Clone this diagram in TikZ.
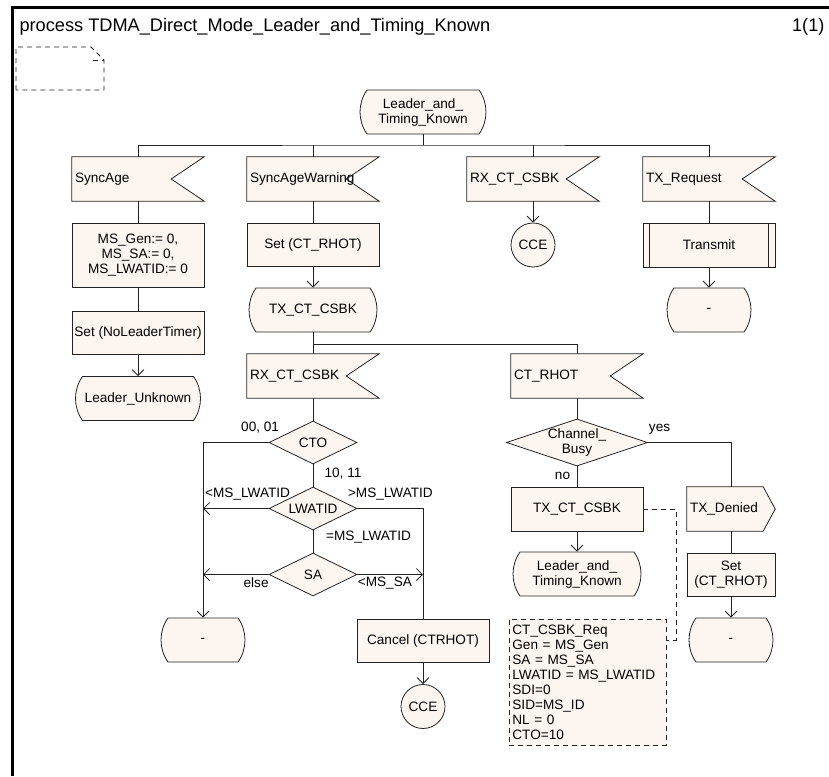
\documentclass[tikz,border=0pt]{standalone}
\usepackage{fontspec}
\setmainfont{Liberation Sans}
\usetikzlibrary{shapes.geometric,shapes.misc,arrows.meta,backgrounds}

\definecolor{sdlfill}{RGB}{253,246,240}
\definecolor{sdlline}{RGB}{35,35,35}

\newcommand{\sdlfont}{\fontsize{13.6}{15}\selectfont}
\newcommand{\headfont}{\fontsize{18.2}{20}\selectfont}

\tikzset{
  sym/.style={draw=sdlline, fill=sdlfill, line width=0.8pt},
  task/.style={sym, rectangle, minimum width=132pt, minimum height=43pt, inner sep=2pt, align=center},
  state/.style={sym, rounded rectangle, rounded rectangle arc length=70, minimum width=132pt, minimum height=44pt, inner sep=2pt, align=center},
  decision/.style={sym, diamond, aspect=2, minimum width=88pt, minimum height=43pt, inner sep=0pt, align=center},
  conn/.style={sym, circle, minimum size=44pt, inner sep=0pt},
  input/.style={rectangle, minimum width=132pt, minimum height=44pt, text width=126pt, inner sep=3pt, align=left},
  output/.style={rectangle, minimum width=88pt, minimum height=44pt, text width=82pt, inner sep=3pt, align=left},
  commentbox/.style={sym, dash pattern=on 5pt off 4pt, minimum width=157pt, minimum height=126pt, text width=151pt, inner sep=3pt, align=left},
  flow/.style={draw=sdlline, line width=0.8pt},
  arr/.style={flow, -{Straight Barb[length=6pt,width=12pt]}},
  commentline/.style={flow, dash pattern=on 5pt off 4pt},
  lbl/.style={inner sep=0pt}
}

\begin{document}
\begin{tikzpicture}[x=1pt, y=-1pt, font=\sdlfont]
\useasboundingbox (0,0) rectangle (829,776);

% frame and header
\draw[line width=3pt] (12,776) -- (12,8) -- (829,8);
\node (title) [anchor=base west, font=\headfont] at (16,32) {process TDMA\_Direct\_Mode\_Leader\_and\_Timing\_Known};
\node (page) [anchor=base east, font=\headfont] at (828,32) {1(1)};
\draw[commentline] (16,90) -- (16,47) -- (91,47) -- (104,60) -- (104,90) -- cycle;
\draw[commentline] (93,60) -- (104,60);

\node (start) [state, minimum width=130pt] at (423,112) {Leader\_and\_\\Timing\_Known};

\node (sa)  [input] at (138,179) {SyncAge};
\node (saw) [input, right of=sa, node distance=175pt] {SyncAgeWarning};
\node (rx1) [input, right of=saw, node distance=220pt] {RX\_CT\_CSBK};
\node (txr) [input, right of=rx1, node distance=176pt] {TX\_Request};

\node (init)  [task, below of=sa, node distance=76pt, minimum height=64pt] {MS\_Gen:= 0,\\MS\_SA:= 0,\\MS\_LWATID:= 0};
\node (setnl) [task, below of=init, node distance=77.5pt] {Set (NoLeaderTimer)};
\node (lu)    [state, below of=setnl, node distance=66pt, minimum width=129pt] {Leader\_Unknown};

\node (setrhot) [task, below of=saw, node distance=65.5pt] {Set (CT\_RHOT)};
\node (txcsbk)  [state, below of=setrhot, node distance=65.5pt] {TX\_CT\_CSBK};
\node (rx2)     [input, below of=txcsbk, node distance=66pt] {RX\_CT\_CSBK};
\node (cto)     [decision, below of=rx2, node distance=66.5pt] {CTO};
\node (lwatid)  [decision, below of=cto, node distance=66pt] {LWATID};
\node (sadec)   [decision, below of=lwatid, node distance=66pt] {SA};
\node (dash1)   [state, minimum width=88pt] at (203,640) {-};
\node (cancel)  [task] at (423,640.5) {Cancel (CTRHOT)};
\node (cce2)    [conn, below of=cancel, node distance=66pt] {CCE};

\node (cce1) [conn, below of=rx1, node distance=66pt] {CCE};

\node (transmit) [task, minimum height=44pt, below of=txr, node distance=66pt] {Transmit};
\node (dash2)    [state, minimum width=88pt, below of=transmit, node distance=65pt] {-};

\node (ctrhot)   [input, right of=rx2, node distance=264pt] {CT\_RHOT};
\node (chbusy)   [decision, aspect=3, minimum width=131pt, below of=ctrhot, node distance=66.5pt] {Channel\_\\Busy};
\node (txcsbk2)  [task, minimum height=44pt, below of=chbusy, node distance=66.5pt] {TX\_CT\_CSBK};
\node (lat)      [state, below of=txcsbk2, node distance=65pt] {Leader\_and\_\\Timing\_Known};
\node (txden)    [output, right of=txcsbk2, node distance=154pt] {TX\_Denied};
\node (setrhot2) [task, minimum width=88pt, below of=txden, node distance=65.5pt] {Set\\(CT\_RHOT)};
\node (dash3)    [state, minimum width=88pt, below of=setrhot2, node distance=65.5pt] {-};
\node (note)     [commentbox, anchor=north west] at (509,619)
  {CT\_CSBK\_Req\\Gen = MS\_Gen\\SA = MS\_SA\\LWATID = MS\_LWATID\\SDI=0\\SID=MS\_ID\\NL = 0\\CTO=10};

% input and output symbols
\begin{scope}[on background layer]
\foreach \n in {sa,saw,rx1,txr,rx2,ctrhot}
  \filldraw[sym] (\n.north west) -- (\n.north east) -- ([xshift=-33pt]\n.east) -- (\n.south east) -- (\n.south west) -- cycle;
\filldraw[sym] (txden.north west) -- ([xshift=-12pt]txden.north east) -- (txden.east) -- ([xshift=-12pt]txden.south east) -- (txden.south west) -- cycle;
\end{scope}
\draw[flow] ([xshift=7pt]transmit.north west) -- ([xshift=7pt]transmit.south west);
\draw[flow] ([xshift=-7pt]transmit.north east) -- ([xshift=-7pt]transmit.south east);

% branch lines
\coordinate (bar1) at (423,145);
\coordinate (bar2) at (313,344);
\draw[flow] (start.south) -- (bar1);
\draw[flow] (sa.north) |- (bar1) -| (txr.north);
\draw[flow] (saw.north) -- (saw.north |- bar1);
\draw[flow] (rx1.north) -- (rx1.north |- bar1);

\draw[flow] (sa.south) -- (init.north);
\draw[flow] (init.south) -- (setnl.north);
\draw[arr] (setnl.south) -- (lu.north);

\draw[flow] (saw.south) -- (setrhot.north);
\draw[arr] (setrhot.south) -- (txcsbk.north);
\draw[flow] (txcsbk.south) -- (rx2.north);
\draw[flow] (bar2) -| (ctrhot.north);

\draw[arr] (rx1.south) -- (cce1.north);
\draw[flow] (txr.south) -- (transmit.north);
\draw[arr] (transmit.south) -- (dash2.north);

\draw[flow] (rx2.south) -- (cto.north);
\draw[flow] (cto.south) -- (lwatid.north);
\draw[flow] (lwatid.south) -- (sadec.north);
\draw[arr] (cto.west) -| (dash1.north);
\draw[arr] (lwatid.west) -- (lwatid.west -| dash1.north);
\draw[arr] (sadec.west) -- (sadec.west -| dash1.north);
\draw[flow] (lwatid.east) -| (cancel.north);
\draw[arr] (sadec.east) -- (sadec.east -| cancel.north);
\draw[arr] (cancel.south) -- (cce2.north);

\draw[flow] (ctrhot.south) -- (chbusy.north);
\draw[flow] (chbusy.south) -- (txcsbk2.north);
\draw[arr] (txcsbk2.south) -- (lat.north);
\draw[flow] (chbusy.east) -| (txden.north);
\draw[flow] (txden.south) -- (setrhot2.north);
\draw[arr] (setrhot2.south) -- (dash3.north);
\draw[commentline] (txcsbk2.east) -- ++(33,0) |- ([yshift=-21pt]note.north east);

% answer labels
\node (l1) [lbl] at ([shift={(-8.5,-14.5)}]cto.west) {00, 01};
\node (l2) [lbl] at ([shift={(30,9)}]cto.south) {10, 11};
\node (l3) [lbl] at ([shift={(-21,-14.5)}]lwatid.west) {<MS\_LWATID};
\node (l4) [lbl] at ([shift={(33,-14.5)}]lwatid.east) {>MS\_LWATID};
\node (l5) [lbl] at ([shift={(55.5,7)}]lwatid.south) {=MS\_LWATID};
\node (l6) [lbl] at ([shift={(-12.5,8.5)}]sadec.west) {else};
\node (l7) [lbl] at ([shift={(27.5,8.5)}]sadec.east) {<MS\_SA};
\node (l8) [lbl] at ([shift={(11.5,-13.5)}]chbusy.east) {yes};
\node (l9) [lbl] at ([shift={(-14.5,9)}]chbusy.south) {no};

\end{tikzpicture}
\end{document}
